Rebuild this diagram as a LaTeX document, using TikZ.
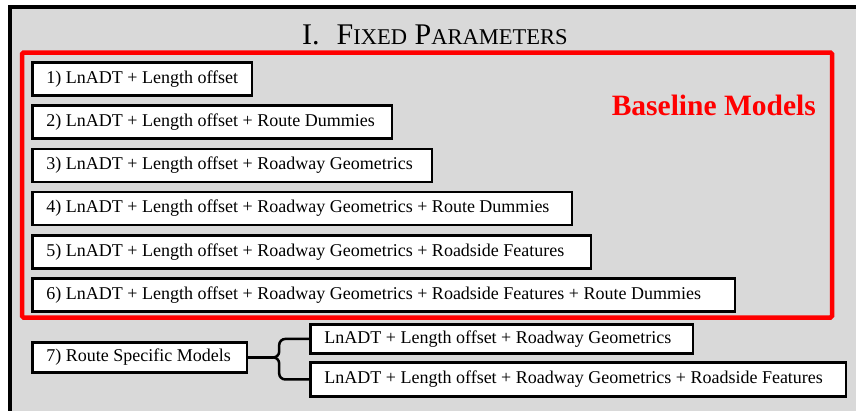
\documentclass[tikz,border=0pt]{standalone}
\usepackage{fontspec}
\setmainfont{Liberation Serif}
\usetikzlibrary{calc}
\definecolor{panelgray}{HTML}{D9D9D9}
\definecolor{baselinered}{HTML}{FF0000}
\newcommand{\boxline}[2]{\makebox[#1pt][l]{#2}}

\begin{document}
\begin{tikzpicture}[x=1pt, y=-1pt,
    modelbox/.style={draw, line width=2.5pt, fill=white, anchor=north west, minimum height=33pt,
        inner xsep=14pt, inner ysep=0pt, font=\fontsize{18}{20}\selectfont},
    connector/.style={line width=2.5pt, rounded corners=6pt}]
    \useasboundingbox (0,0) rectangle (856,410);
    \clip (0,0) rectangle (856,410);

    % Panel background and frame
    \fill[panelgray] (10,7) rectangle (862,416);
    \draw[line width=4pt] (10,416) -- (10,7) -- (862,7);

    % Title
    \node[anchor=base west, inner sep=0pt, font=\fontsize{30}{30}\selectfont] (title) at (302,44)
        {I.\hspace{17pt}F{\fontsize{22.5}{22.5}\selectfont IXED} P{\fontsize{22.5}{22.5}\selectfont ARAMETERS}};

    % Baseline models frame
    \draw[baselinered, line width=4.5pt, rounded corners=1.5pt] (22,52.5) rectangle (832,317.5);
    \node[anchor=base east, inner sep=0pt, text=baselinered, font=\fontsize{29.5}{30}\selectfont\bfseries]
        (baseline) at (816,115) {Baseline Models};

    % Fixed parameter models 1) to 6)
    \foreach \i/\tw/\txt in {1/191.5/{LnADT + Length offset},
                             2/331.5/{LnADT + Length offset + Route Dummies},
                             3/371.5/{LnADT + Length offset + Roadway Geometrics},
                             4/511.5/{LnADT + Length offset + Roadway Geometrics + Route Dummies},
                             5/530.5/{LnADT + Length offset + Roadway Geometrics + Roadside Features},
                             6/674.5/{LnADT + Length offset + Roadway Geometrics + Roadside Features + Route Dummies}}
        \node[modelbox] (m\i) at (31.2, {61.2+43.2*(\i-1)}) {\boxline{\tw}{\i) \txt}};

    % Route specific models
    \node[modelbox, minimum height=30pt] (m7) at (31.2,341.2) {\boxline{186.5}{7) Route Specific Models}};
    \node[modelbox, minimum height=29pt] (r1) at (309.2,323.2)
        {\boxline{354.5}{LnADT + Length offset + Roadway Geometrics}};
    \node[modelbox, minimum height=34pt] (r2) at (309.2,361.2)
        {\boxline{507.5}{LnADT + Length offset + Roadway Geometrics + Roadside Features}};

    % Brace
    \coordinate (tip) at ($(m7.east)+(25,0)$);
    \draw[line width=2.5pt] (m7.east) -- (tip);
    \draw[connector] (tip) -- ++(6,0) |- (r1.west);
    \draw[connector] (tip) -- ++(6,0) |- (r2.west);

\end{tikzpicture}
\end{document}
